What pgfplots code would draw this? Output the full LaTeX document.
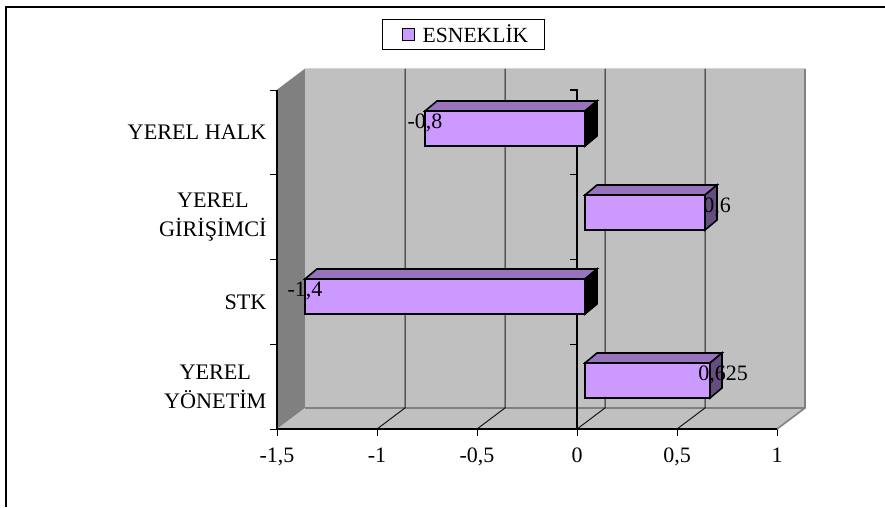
\documentclass[border=0pt]{standalone}
\usepackage{fontspec}
\setmainfont{Liberation Serif}
\usepackage{pgfplots}
\pgfplotsset{compat=1.18}
\definecolor{barfront}{HTML}{CC99FF}
\definecolor{bartop}{HTML}{9A73BF}
\definecolor{barside}{HTML}{664D80}
\definecolor{wall}{HTML}{C0C0C0}
\definecolor{wallside}{HTML}{808080}
\begin{document}
\begin{tikzpicture}
\path[use as bounding box] (-277pt,-78pt) rectangle (608pt,429pt);
\begin{axis}[
	at={(0pt,0pt)}, anchor=south west,
	width=500pt, height=339pt, scale only axis,
	clip=false,
	xmin=-1.5, xmax=1,
	ymin=0, ymax=4,
	axis x line=bottom,
	axis y line=left,
	axis line style={-, black, line width=1.2pt},
	tick align=outside,
	tick style={black, line width=0.9pt},
	major tick length=7pt,
	xtick={-1.5,-1,-0.5,0,0.5,1},
	xticklabels={{-1,5},{-1},{-0,5},{0},{0,5},{1}},
	ytick={0,1,2,3,4},
	yticklabels={},
	extra y ticks={0.5,1.5,2.5,3.5},
	extra y tick labels={{YEREL\\YÖNETİM},{STK},{YEREL\\GİRİŞİMCİ},{YEREL HALK}},
	extra y tick style={major tick length=0pt},
	yticklabel style={align=center, font=\fontsize{22.2}{29}\selectfont, xshift=-7pt},
	xticklabel style={font=\fontsize{22}{26}\selectfont, yshift=-8pt},
	legend style={at={(0.373,1.164)}, anchor=center, draw=black, fill=white,
		line width=0.8pt, font=\fontsize{21.6}{26}\selectfont,
		inner xsep=14.5pt, inner ysep=3.5pt},
	legend image code/.code={
		\draw[fill=barfront, draw=black, line width=1.4pt] (6pt,-6pt) rectangle (18pt,6pt);
		\path[draw=none, fill=none] (0pt,0pt) -- (24pt,0pt);
	},
]
% side wall, floor, back wall
\addplot[fill=wallside, draw=wallside, forget plot] coordinates {(-1.5,0)(-1.36,0.248)(-1.36,4.248)(-1.5,4)} --cycle;
\addplot[fill=wall, draw=none, forget plot] coordinates {(-1.36,0.248)(1.14,0.248)(1.14,4.248)(-1.36,4.248)} --cycle;
\addplot[fill=wall, draw=none, forget plot] coordinates {(-1.5,0)(1,0)(1.14,0.248)(-1.36,0.248)} --cycle;
\addplot[draw=wallside, line width=1.6pt, forget plot] coordinates {(1,0)(1.14,0.248)(1.14,4.248)};
\addplot[draw=wallside, line width=1.6pt, forget plot] coordinates {(-1.36,0.248)(1.14,0.248)};
\addplot[draw=wall!70!white, line width=1pt, forget plot] coordinates {(-1.36,4.248)(1.14,4.248)};
% gridlines on floor and back wall
\addplot[draw=black!90, line width=1pt, forget plot] coordinates {(-1,0)(-0.86,0.248)(-0.86,4.248)};
\addplot[draw=black!90, line width=1pt, forget plot] coordinates {(-0.5,0)(-0.36,0.248)(-0.36,4.248)};
\addplot[draw=black!90, line width=1pt, forget plot] coordinates {(0,0)(0.14,0.248)(0.14,4.248)};
\addplot[draw=black!90, line width=1pt, forget plot] coordinates {(0.5,0)(0.64,0.248)(0.64,4.248)};
% front edges and the axis at zero with its ticks
\addplot[draw=black, line width=1.2pt, forget plot] coordinates {(-1.5,4)(-1.5,0)(1,0)};
\addplot[draw=black, line width=1.1pt, forget plot] coordinates {(0,0)(0,4)(-0.035,4)};
\addplot[draw=black, line width=0.9pt, forget plot] coordinates {(0,3)(-0.035,3)};
\addplot[draw=black, line width=0.9pt, forget plot] coordinates {(0,2)(-0.035,2)};
\addplot[draw=black, line width=0.9pt, forget plot] coordinates {(0,1)(-0.035,1)};
\addplot[draw=black, line width=0.9pt, forget plot] coordinates {(0,0)(-0.035,0)};
% top and end faces of the bars
\addplot[fill=bartop, draw=black, line width=1.6pt, forget plot] coordinates {(0.04,0.779)(0.665,0.779)(0.725,0.897)(0.1,0.897)} --cycle;
\addplot[fill=barside, draw=black, line width=1.6pt, forget plot] coordinates {(0.665,0.366)(0.725,0.484)(0.725,0.897)(0.665,0.779)} --cycle;
\addplot[fill=bartop, draw=black, line width=1.6pt, forget plot] coordinates {(-1.36,1.770)(0.04,1.770)(0.1,1.888)(-1.3,1.888)} --cycle;
\addplot[fill=black, draw=black, line width=1.6pt, forget plot] coordinates {(0.04,1.357)(0.1,1.475)(0.1,1.888)(0.04,1.770)} --cycle;
\addplot[fill=bartop, draw=black, line width=1.6pt, forget plot] coordinates {(0.04,2.761)(0.64,2.761)(0.7,2.879)(0.1,2.879)} --cycle;
\addplot[fill=barside, draw=black, line width=1.6pt, forget plot] coordinates {(0.64,2.348)(0.7,2.466)(0.7,2.879)(0.64,2.761)} --cycle;
\addplot[fill=bartop, draw=black, line width=1.6pt, forget plot] coordinates {(-0.76,3.752)(0.04,3.752)(0.1,3.870)(-0.7,3.870)} --cycle;
\addplot[fill=black, draw=black, line width=1.6pt, forget plot] coordinates {(0.04,3.339)(0.1,3.457)(0.1,3.870)(0.04,3.752)} --cycle;
% front faces
\addplot[xbar, bar width=35pt, xshift=8pt, fill=barfront, draw=black, line width=1.6pt] coordinates {
	(0.625,0.5725)
	(-1.4,1.5635)
	(0.6,2.5545)
	(-0.8,3.5455)
};
\legend{ESNEKLİK}
% data labels
\node[font=\fontsize{22}{26}\selectfont] at (axis cs:0.73,0.64) {0,625};
\node[font=\fontsize{22}{26}\selectfont] at (axis cs:-1.36,1.63) {-1,4};
\node[font=\fontsize{22}{26}\selectfont] at (axis cs:0.7,2.62) {0,6};
\node[font=\fontsize{22}{26}\selectfont] at (axis cs:-0.76,3.61) {-0,8};
\end{axis}
% chart frame
\draw[black, line width=2pt] (-271pt,-78pt) -- (-271pt,421.5pt) -- (608pt,421.5pt);
\end{tikzpicture}
\end{document}
